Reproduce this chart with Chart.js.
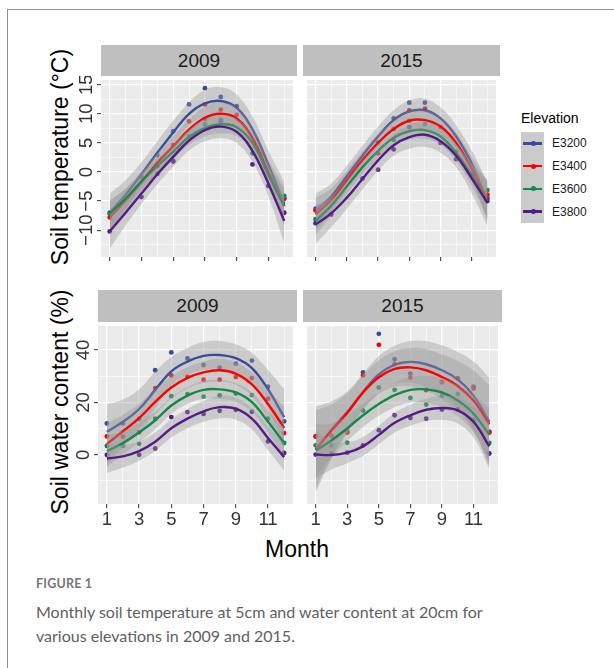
<!DOCTYPE html>
<html>
<head>
<meta charset="utf-8">
<title>Soil temperature and water content</title>
<script src="https://cdn.jsdelivr.net/npm/chart.js@4.4.1/dist/chart.umd.min.js"></script>
<style>
  html, body { margin: 0; padding: 0; background: #fff; }
  body { position: relative; width: 614px; height: 668px; overflow: hidden; font-family: "Liberation Sans", Arial, sans-serif; }
  .frame { position: absolute; left: 7px; top: 9px; width: 800px; height: 800px; border: 1px solid #8f8f8f; }
  .panel { position: absolute; }
  .strip { position: absolute; background: #bfbfbf; color: #1a1a1a; font-size: 19px; display: flex; align-items: center; justify-content: center; }
  .ytitle { position: absolute; white-space: nowrap; font-size: 23px; line-height: 1; color: #000; transform: translate(-50%, -50%) rotate(-90deg); }
  .xtitle { position: absolute; white-space: nowrap; font-size: 23px; line-height: 1; color: #000; transform: translate(-50%, -50%); }
  .legend-title { position: absolute; left: 521px; top: 110px; font-size: 14px; color: #000; }
  .legend-keys { position: absolute; left: 521px; top: 132px; width: 23px; height: 91px; background: #cbcbcb; }
  .key { position: absolute; left: 2px; width: 19px; height: 2.4px; }
  .key i { position: absolute; left: 7.5px; top: -1.3px; width: 5px; height: 5px; border-radius: 50%; }
  .legend-label { position: absolute; left: 552px; font-size: 12px; color: #1a1a1a; line-height: 1; }
  .fig-label { position: absolute; left: 36px; top: 576px; font-family: Lato, "Open Sans", sans-serif; font-weight: bold; font-size: 12.5px; color: #767676; letter-spacing: 0.2px; }
  .fig-text { position: absolute; left: 36px; top: 600px; width: 470px; font-family: Lato, "Open Sans", sans-serif; font-size: 16px; line-height: 24px; color: #5f5f5f; }
</style>
</head>
<body>
<div class="frame"></div>

<div class="strip" style="left:101px;top:45px;width:196px;height:31px">2009</div>
<div class="strip" style="left:303px;top:45px;width:197px;height:31px">2015</div>
<div class="strip" style="left:98px;top:290px;width:199px;height:32px">2009</div>
<div class="strip" style="left:303px;top:290px;width:199px;height:32px">2015</div>

<div class="ytitle" style="left:60px;top:157px">Soil temperature (°C)</div>
<div class="ytitle" style="left:60px;top:402px">Soil water content (%)</div>
<div class="xtitle" style="left:297px;top:549px">Month</div>

<div class="legend-title">Elevation</div>
<div class="legend-keys" id="keys"></div>

<div class="fig-label">FIGURE 1</div>
<div class="fig-text">Monthly soil temperature at 5cm and water content at 20cm for various elevations in 2009 and 2015.</div>

<script>
const months = [1, 2, 3, 4, 5, 6, 7, 8, 9, 10, 11, 12];
const elevations = ['E3200', 'E3400', 'E3600', 'E3800'];
const colors = ['#3b4b9b', '#ff0000', '#10894a', '#561a87'];

// rows: E3200, E3400, E3600, E3800 ; null = no visible point
const temp2009Obs = [
  [-7.0, null, null, 2.9, 7.0, 11.6, 14.4, 12.9, 11.3, null, null, -4.6],
  [-7.8, null, -0.8, 1.0, 4.6, 8.7, 11.6, 10.7, 9.8, null, null, -4.5],
  [-7.2, null, null, null, 1.9, 6.1, 8.2, 9.0, null, 3.2, null, -4.1],
  [-10.2, null, -4.3, -0.3, 1.8, null, 9.1, 8.7, null, 1.3, -2.4, -7.0]
];
const temp2009Fit = [
  [-7.0, -3.9, -0.4, 3.3, 6.8, 10.0, 11.8, 12.2, 11.0, 7.3, 1.2, -5.5],
  [-7.8, -4.9, -1.7, 1.6, 4.4, 7.3, 9.3, 10.0, 9.2, 5.8, -0.1, -5.9],
  [-7.2, -4.6, -1.6, 1.0, 3.5, 6.0, 7.6, 8.2, 7.7, 5.0, -0.5, -5.8],
  [-10.2, -7.0, -3.7, -0.4, 2.6, 5.4, 7.2, 7.8, 6.9, 3.6, -2.0, -8.4]
];
const temp2009Se = [
  [3.3, 2.5, 2.1, 2.0, 2.0, 2.0, 2.3, 2.4, 2.3, 2.2, 2.5, 3.8],
  [2.8, 2.1, 1.8, 1.7, 1.7, 1.7, 1.9, 2.0, 1.9, 1.9, 2.2, 3.3],
  [2.3, 1.7, 1.4, 1.3, 1.3, 1.3, 1.5, 1.6, 1.5, 1.5, 1.8, 2.7],
  [3.0, 2.2, 1.8, 1.7, 1.7, 1.7, 1.9, 2.0, 1.9, 1.9, 2.2, 3.8]
];

const temp2015Obs = [
  [-6.3, null, null, null, 5.1, 9.2, 11.9, 11.9, null, null, null, -4.5],
  [-6.6, null, null, null, 3.2, 7.4, 10.6, 10.9, 7.7, null, null, -3.9],
  [-8.1, null, null, null, null, 5.5, 8.8, 8.2, null, 3.5, null, -3.1],
  [-8.8, -7.3, null, -1.1, 0.4, 3.9, 7.7, null, 5.0, 2.2, -0.5, -5.0]
];
const temp2015Fit = [
  [-6.7, -4.2, -0.7, 2.8, 6.1, 8.9, 10.4, 10.6, 9.2, 6.1, 1.4, -5.1],
  [-7.3, -4.8, -1.4, 2.0, 5.0, 7.4, 8.8, 8.9, 7.8, 5.0, 0.5, -4.8],
  [-8.4, -5.8, -2.5, 0.8, 3.6, 5.9, 7.0, 7.2, 6.1, 3.3, -0.6, -5.0],
  [-9.0, -7.1, -4.4, -1.2, 2.0, 4.6, 6.0, 6.4, 5.3, 2.8, -1.1, -5.3]
];
const temp2015Se = [
  [3.0, 2.2, 1.8, 1.7, 1.7, 1.7, 1.9, 2.0, 1.9, 1.9, 2.3, 3.4],
  [2.8, 2.0, 1.6, 1.5, 1.5, 1.5, 1.7, 1.8, 1.7, 1.7, 2.1, 3.2],
  [2.4, 1.7, 1.3, 1.2, 1.2, 1.2, 1.4, 1.5, 1.4, 1.4, 1.8, 3.0],
  [3.3, 2.4, 1.9, 1.8, 1.8, 1.8, 2.0, 2.1, 2.0, 2.0, 2.6, 4.0]
];

const water2009Obs = [
  [12.0, 12.0, 13.7, 32.3, 39.1, 36.8, 34.3, 33.3, 34.8, 36.0, 26.0, 12.8],
  [7.0, 6.9, 8.6, 25.5, 30.3, 29.8, 28.7, 28.7, 29.7, 29.3, 21.4, 8.3],
  [3.4, 3.4, 4.2, 13.8, 22.4, 23.2, 22.2, 22.7, 23.4, 22.8, 13.8, 4.5],
  [0.0, null, 0.0, 2.4, 14.4, 16.3, 15.6, 16.8, 17.2, 16.4, 5.1, 0.7]
];
const water2009Fit = [
  [8.8, 12.6, 17.5, 24.8, 31.9, 35.6, 37.8, 38.1, 36.9, 33.1, 25.0, 14.4],
  [4.1, 9.0, 14.0, 20.2, 25.7, 29.4, 31.5, 32.3, 31.0, 26.9, 19.4, 10.3],
  [1.4, 4.5, 8.5, 13.2, 18.8, 22.6, 24.8, 25.0, 23.8, 20.1, 12.6, 4.5],
  [-1.4, -0.6, 1.4, 5.0, 10.1, 13.8, 16.6, 18.2, 17.6, 13.8, 6.4, -0.9]
];
const water2009Se = [
  [10.5, 8.5, 7.5, 7.0, 5.5, 5.2, 5.3, 5.4, 5.3, 5.8, 7.5, 10.6],
  [8.0, 6.3, 5.4, 4.8, 4.2, 4.0, 4.1, 4.4, 4.3, 4.6, 5.6, 8.0],
  [6.0, 4.5, 3.8, 3.4, 3.2, 3.2, 3.5, 3.7, 3.6, 3.7, 4.2, 6.0],
  [5.6, 4.3, 3.7, 3.5, 3.5, 3.7, 4.0, 4.3, 4.2, 4.1, 4.6, 5.2]
];

const water2015Obs = [
  [7.0, 7.2, 9.0, 31.5, 46.2, 36.5, 31.0, 24.8, 27.8, 29.2, 26.0, 8.8],
  [7.0, 7.2, 8.5, 30.3, 42.0, 34.6, 29.4, 24.7, 27.8, 29.2, 25.3, 8.5],
  [3.6, 3.6, 4.6, 16.9, 25.7, 24.8, 21.7, 19.2, 22.6, 23.2, 13.2, 4.5],
  [0.1, 0.5, 0.8, 3.6, 9.4, 15.1, 14.1, 13.8, 17.3, 17.3, 13.2, 0.5]
];
const water2015Fit = [
  [2.0, 9.5, 16.3, 24.0, 30.7, 34.4, 35.5, 34.6, 32.3, 28.8, 22.6, 12.6],
  [2.0, 9.3, 16.0, 23.8, 29.6, 32.8, 33.4, 32.3, 29.7, 26.3, 20.7, 11.6],
  [1.6, 5.5, 10.1, 15.1, 19.4, 22.8, 24.8, 25.0, 23.8, 20.7, 15.7, 7.6],
  [0.1, -0.1, 0.8, 3.2, 7.6, 12.2, 15.1, 17.2, 17.9, 17.0, 12.6, 3.2]
];
const water2015Se = [
  [16.5, 11.0, 8.0, 7.0, 7.0, 7.3, 8.0, 8.8, 9.5, 10.5, 13.0, 16.8],
  [15.0, 10.0, 7.5, 6.5, 6.5, 6.8, 7.4, 8.0, 8.6, 9.5, 11.5, 15.0],
  [10.0, 6.5, 5.0, 4.5, 4.5, 4.6, 4.9, 5.2, 5.5, 6.0, 7.2, 10.0],
  [9.0, 5.5, 4.0, 3.6, 3.6, 3.7, 4.0, 4.3, 4.6, 5.0, 6.0, 8.5]
];

const tempTicks = [-12.5, -10, -7.5, -5, -2.5, 0, 2.5, 5, 7.5, 10, 12.5, 15];
const tempMajor = [-10, -5, 0, 5, 10, 15];
const waterTicks = [-10, 0, 10, 20, 30, 40];
const waterMajor = [0, 20, 40];
const monthMajor = [1, 3, 5, 7, 9, 11];

const bandFill = 'rgba(153,153,153,0.4)';
const tickFont = { family: 'Liberation Sans', size: 18.5 };
const labelOffset = 14;
const tickLen = 4;

const fmt = v => (v < 0 ? '\u2212' + Math.abs(v) : String(v));

const panelBg = {
  id: 'panelBg',
  beforeDraw(chart) {
    const { ctx, chartArea: a } = chart;
    ctx.save();
    ctx.fillStyle = '#ebebeb';
    ctx.fillRect(a.left, a.top, a.right - a.left, a.bottom - a.top);
    ctx.restore();
  }
};

function widestLabel(values) {
  const ctx = document.createElement('canvas').getContext('2d');
  ctx.font = tickFont.size + 'px "' + tickFont.family + '"';
  return Math.max(...values.map(v => ctx.measureText(fmt(v)).width));
}

function buildDatasets(obs, fit, se) {
  const ds = [];
  obs.forEach((row, s) => {
    ds.push({
      data: months.map((m, i) => ({ x: m, y: row[i] })).filter(p => p.y !== null),
      showLine: false, pointRadius: 2.4, pointBorderWidth: 0,
      pointBackgroundColor: colors[s], order: 1000 - s
    });
  });
  fit.forEach((row, s) => {
    const base = 500 - s * 10;
    ds.push({
      data: months.map((m, i) => ({ x: m, y: row[i] - se[s][i] })),
      borderColor: 'rgba(0,0,0,0)', borderWidth: 0, pointRadius: 0, tension: 0.4, fill: false, order: base
    });
    ds.push({
      data: months.map((m, i) => ({ x: m, y: row[i] + se[s][i] })),
      borderColor: 'rgba(0,0,0,0)', borderWidth: 0, pointRadius: 0, tension: 0.4,
      fill: '-1', backgroundColor: bandFill, order: base - 1
    });
    ds.push({
      data: months.map((m, i) => ({ x: m, y: row[i] })),
      borderColor: colors[s], borderWidth: 2.4, pointRadius: 0, tension: 0.4, fill: false, order: base - 2
    });
  });
  return ds;
}

function makePanel(rect, obs, fit, se, yRange, yTicks, yMajor, showY, showX) {
  const yw = showY ? 30 : 0;
  const xh = showX ? 32 : 6;
  const canvas = document.createElement('canvas');
  canvas.className = 'panel';
  canvas.width = rect.w + yw;
  canvas.height = rect.h + xh;
  canvas.style.left = (rect.x - yw) + 'px';
  canvas.style.top = rect.y + 'px';
  canvas.style.width = canvas.width + 'px';
  canvas.style.height = canvas.height + 'px';
  document.body.appendChild(canvas);

  const yPad = labelOffset - tickLen - widestLabel(yMajor) / 2;

  return new Chart(canvas, {
    type: 'line',
    data: { datasets: buildDatasets(obs, fit, se) },
    plugins: [panelBg],
    options: {
      responsive: false,
      animation: false,
      devicePixelRatio: 1,
      layout: { padding: 0 },
      plugins: { legend: { display: false }, tooltip: { enabled: false } },
      scales: {
        x: {
          type: 'linear', min: 0.45, max: 12.55,
          afterBuildTicks: s => { s.ticks = months.map(v => ({ value: v })); },
          ticks: {
            display: showX, autoSkip: false, minRotation: 0, maxRotation: 0, padding: 1,
            color: '#333', font: tickFont,
            callback: v => (monthMajor.includes(v) ? String(v) : '')
          },
          grid: {
            color: '#fff',
            lineWidth: c => (c.tick && monthMajor.includes(c.tick.value) ? 1.3 : 0.6),
            tickLength: tickLen, tickWidth: 1,
            tickColor: c => (c.tick && monthMajor.includes(c.tick.value) ? '#333' : 'rgba(0,0,0,0)')
          },
          border: { display: false },
          afterFit: s => { s.height = xh; s.paddingLeft = 0; s.paddingRight = 0; }
        },
        y: {
          type: 'linear', min: yRange[0], max: yRange[1],
          afterBuildTicks: s => { s.ticks = yTicks.map(v => ({ value: v })); },
          ticks: {
            display: showY, autoSkip: false, minRotation: 90, maxRotation: 90,
            crossAlign: 'center', padding: yPad, color: '#333', font: tickFont,
            callback: v => (yMajor.includes(v) ? fmt(v) : '')
          },
          grid: {
            color: '#fff',
            lineWidth: c => (c.tick && yMajor.includes(c.tick.value) ? 1.3 : 0.6),
            drawTicks: showY, tickLength: tickLen, tickWidth: 1,
            tickColor: c => (c.tick && yMajor.includes(c.tick.value) ? '#333' : 'rgba(0,0,0,0)')
          },
          border: { display: false },
          afterFit: s => { s.width = yw; s.paddingTop = 0; s.paddingBottom = 0; }
        }
      }
    }
  });
}

const tempRange = [-14.6, 15.8];
const waterRange = [-18.8, 49.2];

makePanel({ x: 101, y: 76, w: 196, h: 181 }, temp2009Obs, temp2009Fit, temp2009Se, tempRange, tempTicks, tempMajor, true, false);
makePanel({ x: 303, y: 76, w: 197, h: 181 }, temp2015Obs, temp2015Fit, temp2015Se, tempRange, tempTicks, tempMajor, false, false);
makePanel({ x: 98, y: 322, w: 199, h: 182 }, water2009Obs, water2009Fit, water2009Se, waterRange, waterTicks, waterMajor, true, true);
makePanel({ x: 303, y: 322, w: 199, h: 182 }, water2015Obs, water2015Fit, water2015Se, waterRange, waterTicks, waterMajor, false, true);

// legend keys
const keys = document.getElementById('keys');
elevations.forEach((name, i) => {
  const cy = 11.4 + i * 22.75;
  const k = document.createElement('div');
  k.className = 'key';
  k.style.top = (cy - 1.2) + 'px';
  k.style.background = colors[i];
  const dot = document.createElement('i');
  dot.style.background = colors[i];
  k.appendChild(dot);
  keys.appendChild(k);
  const lab = document.createElement('div');
  lab.className = 'legend-label';
  lab.style.top = (132 + cy - 6) + 'px';
  lab.textContent = name;
  document.body.appendChild(lab);
});
</script>
</body>
</html>
